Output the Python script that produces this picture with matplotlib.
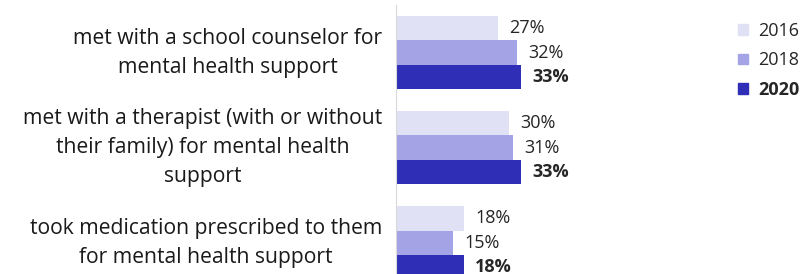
import matplotlib.pyplot as plt
import numpy as np
from matplotlib.patches import Patch

plt.rcParams['font.family'] = ['Open Sans', 'DejaVu Sans']

categories = [
    "met with a school counselor for\nmental health support",
    "met with a therapist (with or without\ntheir family) for mental health\nsupport",
    "took medication prescribed to them\nfor mental health support",
]
years = ["2016", "2018", "2020"]
values_2016 = [27, 30, 18]
values_2018 = [32, 31, 15]
values_2020 = [33, 33, 18]
series = [values_2016, values_2018, values_2020]
colors = ["#E1E1F6", "#A3A3E6", "#2E2EB6"]

fig = plt.figure(figsize=(8.03, 2.74), dpi=100)
ax = fig.add_axes([396 / 803, 0, (690 - 396) / 803, 269 / 274])

y = np.arange(len(categories))
h = 0.255
for i, (vals, col) in enumerate(zip(series, colors)):
    pos = y + (i - 1) * h
    ax.barh(pos, vals, height=h, color=col, edgecolor="none")
    for p, v in zip(pos, vals):
        ax.text(v + 3.0, p, f"{v}%", va="center", ha="left", fontsize=13,
                color="#262626", fontweight="bold" if i == 2 else "normal")

ax.set_ylim(2.33, -0.5)
ax.set_xlim(0, (690 - 396) / 3.78)
ax.set_yticks([])
ax.set_xticks([])
for s in ["top", "right", "bottom"]:
    ax.spines[s].set_visible(False)
ax.spines["left"].set_color("#D9D9D9")

for yy, cat in zip(y, categories):
    ax.annotate(cat, xy=(0, yy), xycoords=("axes fraction", "data"),
                xytext=(-10, 0), textcoords="offset points", ha="right",
                va="center", multialignment="center", fontsize=15.2,
                color="#1a1a1a", linespacing=1.5)

handles = [Patch(color=c) for c in colors]
leg = fig.legend(handles, years, loc="upper left", bbox_to_anchor=(722 / 803, 1 - 6 / 274),
                 frameon=False, fontsize=13, handlelength=0.55, handleheight=0.55,
                 handletextpad=0.55, labelspacing=0.62)
for t in leg.get_texts():
    t.set_color("#262626")
leg.get_texts()[2].set_fontweight("bold")

fig.savefig("out.png", dpi=100)
